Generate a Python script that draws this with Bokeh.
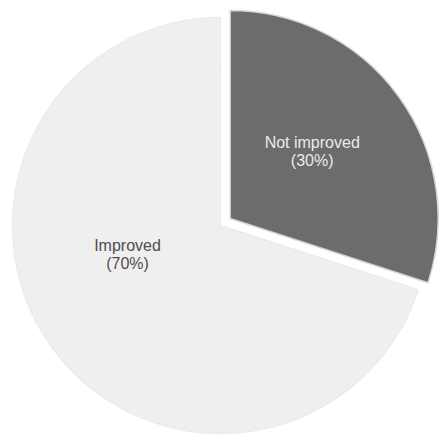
import numpy as np
from bokeh.plotting import figure
from bokeh.models import Range1d, ColumnDataSource
from bokeh.core.properties import value
from bokeh.embed import file_html
from bokeh.resources import INLINE

# ---- data ----
categories = ["Not improved", "Improved"]
percents = [30, 70]
colors = ["#6c6c6c", "#efefef"]
label_colors = ["#ebebeb", "#4d4d4d"]

# ---- layout constants ----
W, H = 439, 438
CX, CY = 220, 213          # pie centre in data (pixel) units
R = 208
EXPLODE = [12, 0]
LABEL_POS = [(82, 67), (-93, -29)]   # label offset from slice centre (dx, dy)

p = figure(width=W, height=H, output_backend="svg", toolbar_location=None,
           x_range=Range1d(0, W), y_range=Range1d(0, H), min_border=0)
p.axis.visible = False
p.grid.visible = False
p.outline_line_color = None
p.background_fill_color = "white"
p.border_fill_color = "white"

vals = np.array(percents, dtype=float)
frac = vals / vals.sum()
# start at 12 o'clock and go clockwise
ends = np.pi / 2 - 2 * np.pi * np.concatenate([[0], np.cumsum(frac)[:-1]])
starts = ends - 2 * np.pi * frac
mids = (starts + ends) / 2

xs, ys = [], []
for i in range(len(vals)):
    xs.append(CX + EXPLODE[i] * np.cos(mids[i]))
    ys.append(CY + EXPLODE[i] * np.sin(mids[i]))

src = ColumnDataSource(dict(x=xs, y=ys, start=list(starts), end=list(ends),
                            color=colors, cat=categories))
src.data["lc"] = ["#d6d6d6", "#ececec"]
p.wedge(x="x", y="y", radius=R, start_angle="start", end_angle="end",
        fill_color="color", line_color="lc", line_width=1.5, source=src)

for i, cat in enumerate(categories):
    lx = xs[i] + LABEL_POS[i][0]
    ly = ys[i] + LABEL_POS[i][1]
    p.text(x=[lx], y=[ly + 9], text=[cat], text_align="center",
           text_baseline="middle", text_font=value("Liberation Sans"),
           text_font_size="16px", text_color=label_colors[i])
    p.text(x=[lx], y=[ly - 9], text=["(%d%%)" % percents[i]], text_align="center",
           text_baseline="middle", text_font=value("Liberation Sans"),
           text_font_size="16px", text_color=label_colors[i])

open("out.html", "w").write(file_html(p, INLINE))
